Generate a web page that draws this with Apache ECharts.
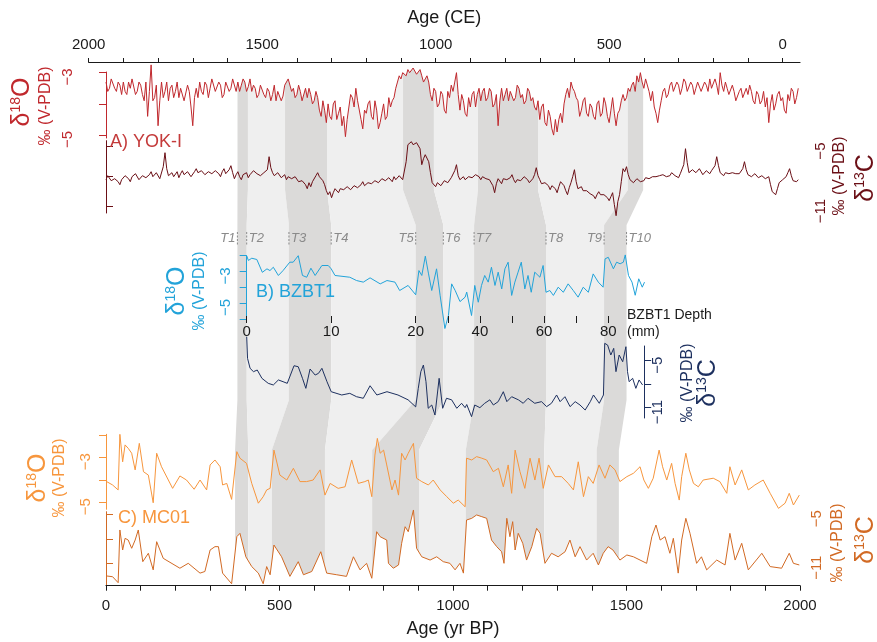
<!DOCTYPE html>
<html>
<head>
<meta charset="utf-8">
<script src="https://cdn.jsdelivr.net/npm/echarts@6/dist/echarts.min.js"></script>
<style>
html, body { margin: 0; padding: 0; background: #fff; }
#chart { width: 877px; height: 642px; }
</style>
</head>
<body>
<div id="chart"></div>
<script>
// ---- data ----
// YOK-I: values at 0,10,20... yr BP and the in-between values at 5,15,25...
var yokStep = 10;
var yokO18 = [
-3.3,-3.5,-3.2,-3.6,-3.4,-3.3,-3.7,-3.5,-3.2,-3.6,
-3.4,-3.9,-4.4,-2.75,-3.8,-4.7,-3.3,-3.6,-3.9,-3.4,
-3.6,-3.8,-3.5,-3.9,-3.6,-4.7,-3.5,-3.3,-3.7,-3.4,
-3.5,-3.2,-3.6,-3.4,-3.7,-3.3,-3.5,-3.25,-3.3,-3.4,
-3.3,-3.45,-3.6,-3.5,-3.7,-3.4,-3.8,-3.6,-3.7,-3.9,
-3.6,-3.75,-3.4,-3.25,-3.5,-3.7,-3.6,-3.9,-3.8,-3.7,
-3.9,-3.8,-4.4,-4.2,-4.0,-4.5,-3.9,-4.3,-4.7,-5.05,
-4.1,-3.8,-3.5,-3.9,-4.8,-4.3,-3.9,-4.5,-4.2,-4.6,
-4.0,-4.4,-4.1,-3.8,-3.3,-3.2,-3.0,-2.9,-2.95,-2.85,
-3.0,-3.1,-3.2,-3.3,-3.9,-3.6,-4.0,-3.7,-4.3,-3.8,
-3.6,-3.0,-4.2,-3.9,-4.4,-4.1,-3.6,-3.7,-3.9,-3.5,
-3.8,-3.6,-4.0,-4.7,-3.5,-3.7,-3.9,-3.6,-3.8,-3.5,
-3.7,-3.9,-3.6,-3.8,-4.2,-4.5,-4.0,-4.7,-4.4,-5.0,
-4.9,-4.3,-4.0,-3.5,-3.3,-3.6,-3.9,-4.2,-3.8,-4.4,
-4.1,-4.5,-3.9,-4.3,-4.0,-4.6,-3.8,-4.7,-4.2,-3.7,
-3.8,-3.6,-3.3,-3.1,-3.0,-3.5,-3.2,-3.9,-4.1,-4.6,
-3.9,-3.5,-3.7,-3.3,-3.6,-3.4,-3.5,-3.3,-3.6,-3.4,
-3.5,-3.3,-3.6,-3.4,-3.2,-3.5,-3.4,-3.0,-3.6,-3.5,
-3.7,-3.6,-3.9,-3.5,-3.8,-3.7,-3.6,-4.0,-3.7,-3.9,
-4.1,-4.6,-3.7,-4.0,-3.6,-3.8,-4.3,-3.9,-3.6,-3.8
];
var yokO18Mid = [
-3.6,-3.2,-3.5,-3.3,-3.7,-3.6,-3.3,-3.2,-3.7,-3.3,
-3.7,-3.3,-3.6,-3.9,-3.4,-3.9,-3.8,-3.3,-3.5,-3.8,
-3.3,-3.5,-3.9,-3.4,-4.1,-3.8,-3.8,-3.6,-3.3,-3.8,
-3.2,-3.6,-3.3,-3.8,-3.3,-3.6,-3.2,-3.6,-3.6,-3.2,
-3.6,-3.2,-3.4,-3.8,-3.4,-3.7,-3.5,-3.9,-3.4,-3.6,
-3.9,-3.4,-3.2,-3.6,-3.8,-3.4,-3.9,-3.5,-3.5,-4.0,
-3.6,-4.2,-3.9,-4.6,-4.4,-4.0,-4.5,-4.1,-4.4,-4.5,
-3.7,-4.1,-3.9,-4.5,-4.2,-4.0,-4.4,-3.9,-4.8,-4.3,
-4.5,-3.8,-3.9,-3.5,-3.1,-3.0,-3.1,-3.0,-2.85,-3.05,
-2.9,-3.3,-3.1,-3.7,-3.5,-4.1,-3.6,-4.2,-3.6,-3.4,
-3.3,-3.7,-3.7,-4.3,-3.8,-3.7,-4.1,-3.5,-3.6,-3.9,
-3.5,-4.1,-3.7,-3.9,-3.9,-3.5,-3.6,-3.9,-3.4,-3.8,
-4.0,-3.5,-3.9,-4.1,-3.9,-4.1,-4.6,-4.2,-4.8,-4.5,
-4.5,-4.6,-3.7,-3.8,-3.5,-3.8,-4.4,-3.9,-4.3,-4.0,
-4.4,-4.0,-4.4,-3.8,-4.4,-4.2,-4.3,-4.3,-3.9,-3.9,
-3.5,-3.4,-3.6,-3.3,-3.3,-3.2,-3.6,-3.6,-4.3,-4.2,
-3.6,-3.8,-3.4,-3.6,-3.3,-3.7,-3.2,-3.6,-3.3,-3.7,
-3.3,-3.6,-3.3,-3.6,-3.5,-3.2,-3.7,-3.4,-3.3,-3.7,
-3.4,-3.9,-3.6,-3.8,-3.5,-3.4,-3.9,-3.6,-4.0,-3.6,
-3.8,-4.0,-4.2,-3.7,-3.9,-4.2,-3.7,-3.5,-4.0,-3.5
];
var yokC13 = [
-8.3,-7.9,-8.6,-8.0,-8.8,-8.2,-7.8,-8.5,-8.1,-7.9,
-8.4,-7.7,-8.2,-7.5,-8.0,-7.8,-8.3,-5.6,-7.9,-7.6,
-7.8,-8.1,-7.4,-7.9,-7.6,-8.0,-7.2,-7.7,-7.5,-7.9,
-7.4,-7.8,-7.3,-8.0,-7.2,-7.6,-6.9,-8.2,-7.5,-8.3,
-7.9,-8.1,-7.7,-7.3,-7.6,-8.0,-7.8,-6.0,-7.6,-7.9,
-7.7,-8.0,-8.3,-7.9,-8.4,-8.1,-8.7,-8.3,-9.2,-9.0,
-8.4,-7.6,-7.9,-8.8,-9.8,-10.1,-9.2,-9.6,-9.0,-9.4,
-8.9,-9.5,-8.7,-9.2,-8.5,-9.0,-8.4,-8.8,-8.2,-8.6,
-8.0,-8.5,-8.2,-8.0,-8.3,-7.9,-8.1,-4.8,-4.5,-5.0,
-4.7,-6.8,-5.8,-6.5,-8.6,-9.0,-8.5,-8.8,-8.2,-8.5,
-8.0,-6.8,-8.3,-8.0,-8.5,-7.8,-8.2,-7.6,-8.3,-7.9,
-8.1,-8.4,-9.6,-8.2,-8.7,-8.0,-8.5,-7.8,-8.6,-8.1,
-8.4,-7.9,-8.6,-8.2,-7.1,-8.3,-8.9,-8.4,-9.3,-8.7,
-9.6,-8.5,-8.9,-9.8,-8.6,-7.3,-9.2,-9.0,-9.6,-9.3,
-9.8,-10.2,-9.5,-10.0,-9.7,-10.4,-9.6,-11.9,-9.8,-7.2,
-7.0,-8.3,-8.6,-8.2,-8.5,-8.4,-8.0,-8.3,-7.8,-8.1,
-8.0,-7.7,-8.2,-7.6,-7.9,-8.1,-7.5,-5.2,-7.6,-7.3,
-7.6,-7.2,-7.8,-7.4,-7.7,-7.5,-6.0,-7.6,-7.9,-7.4,
-7.8,-7.5,-7.9,-7.6,-6.5,-7.8,-8.0,-7.7,-8.1,-7.9,
-8.2,-8.0,-9.5,-9.8,-8.6,-8.3,-8.0,-7.2,-8.4,-8.5
];
var yokC13Mid = [
-7.9,-8.4,-8.2,-8.5,-8.3,-7.9,-8.2,-8.0,-7.7,-8.3,
-7.9,-8.1,-7.8,-8.0,-7.6,-8.2,-7.0,-7.2,-7.7,-8.0,
-7.5,-7.7,-7.8,-7.5,-8.0,-7.5,-7.6,-7.4,-7.8,-7.5,
-7.7,-7.4,-7.7,-7.5,-7.7,-7.3,-7.6,-7.8,-8.0,-7.8,
-7.6,-7.8,-7.4,-7.7,-7.9,-7.6,-7.3,-7.1,-7.9,-7.6,
-8.1,-7.8,-8.0,-8.2,-8.0,-8.5,-8.4,-8.8,-8.6,-8.5,
-7.9,-8.0,-8.4,-9.4,-9.5,-9.6,-9.4,-9.2,-9.3,-9.0,
-9.3,-8.9,-9.1,-8.8,-8.9,-8.6,-8.7,-8.4,-8.6,-8.2,
-8.4,-8.1,-8.5,-8.3,-7.9,-8.3,-6.5,-4.6,-4.8,-4.6,
-5.2,-6.2,-6.0,-7.6,-8.8,-8.6,-8.9,-8.4,-8.6,-8.1,
-7.4,-7.9,-8.1,-8.3,-8.0,-8.1,-7.8,-8.0,-8.0,-8.2,
-8.3,-8.9,-8.7,-8.4,-8.2,-8.3,-8.1,-8.3,-8.3,-8.4,
-8.0,-8.3,-8.4,-7.8,-7.9,-8.7,-8.6,-8.9,-8.9,-9.2,
-9.0,-8.7,-9.4,-9.1,-8.0,-8.5,-9.0,-9.4,-9.4,-9.7,
-9.9,-9.8,-9.8,-9.8,-10.1,-10.0,-10.8,-10.5,-8.5,-7.5,
-7.8,-8.5,-8.4,-8.4,-8.3,-8.1,-8.2,-8.0,-8.0,-7.9,
-7.8,-8.0,-7.9,-7.8,-8.0,-7.7,-6.8,-6.6,-7.4,-7.5,
-7.4,-7.5,-7.6,-7.6,-7.4,-6.9,-6.9,-7.8,-7.6,-7.7,
-7.6,-7.7,-7.7,-7.2,-7.3,-7.9,-7.8,-7.9,-8.0,-8.1,
-8.1,-8.8,-9.7,-9.2,-8.4,-8.1,-7.6,-7.9,-8.5,-8.3
];

// BZBT1 against depth (mm): [depth, value]
var bzO18 = [
[0,-2.0],[0.2,-2.3],[0.6,-2.16],[1.2,-2.24],[1.85,-3.05],[2.4,-2.83],[2.75,-2.94],[3.15,-2.73],[3.75,-3.25],[4.3,-2.94],
[5.1,-2.41],[5.5,-2.41],[6.1,-2.0],[6.6,-3.25],[7.1,-3.36],[7.6,-2.79],[8.1,-3.25],[8.9,-2.62],[9.65,-2.62],[10,-2.83],
[10.45,-3.25],[12.2,-3.36],[13,-3.57],[13.8,-3.67],[14.6,-3.4],[15.8,-3.78],[16.6,-3.57],[17.55,-3.67],[18.1,-4.2],[19.1,-3.88],
[20,-4.47],[21,-2.94],[21.9,-3.25],[23,-2.03],[24,-3.15],[25,-4.2],[26.5,-2.83],[27.6,-4.5],[29.1,-6.6],[30.2,-5.78],
[31.2,-3.78],[32.3,-4.2],[33.8,-4.9],[35.4,-4.62],[35.9,-4.3],[37.4,-5.78],[38.4,-3.88],[39.5,-4.94],[40.5,-3.88],[41.5,-3.25],
[42.6,-3.67],[43.6,-2.73],[44.7,-3.88],[45.7,-3.04],[46.8,-4.1],[47.8,-2.83],[48.8,-2.41],[49.9,-4.51],[50.9,-3.67],[51.9,-3.04],
[52.9,-2.41],[54,-4.1],[55,-3.25],[56,-4.31],[57.1,-3.04],[58.7,-3.36],[59.7,-2.62],[60.6,-4.31],[61.8,-4.2],[62.9,-4.51],
[64.4,-3.99],[66,-4.31],[67.5,-3.78],[69.1,-4.2],[70.6,-4.62],[72.2,-3.99],[73.8,-4.31],[75.3,-3.15],[76.9,-3.67],[78.4,-3.99],
[79,-2.2],[80,-2.1],[81.6,-2.83],[82.6,-2.41],[83.7,-2.51],[84.7,-2.41],[85.3,-1.95],[86.3,-3.25],[87.4,-3.67],[88.4,-4.5],
[89.5,-3.46],[90.6,-3.99],[91.3,-3.67]
];
var bzC13 = [
[0,-1.93],[0.1,-4.7],[0.4,-5.97],[0.8,-6.4],[1.25,-6.19],[1.8,-7.25],[2.55,-7.89],[3.15,-8.1],[3.75,-7.46],[4.3,-7.68],
[4.8,-7.89],[5.6,-5.64],[6.1,-5.77],[6.6,-7.25],[7.0,-8.53],[7.5,-6.06],[8.1,-6.83],[8.5,-6.61],[8.9,-5.97],[9.5,-7.68],
[10,-8.96],[11.25,-9.38],[12.2,-9.17],[13,-9.6],[13.8,-9.8],[14.6,-8.2],[15.4,-9.38],[16.6,-8.96],[17.9,-9.38],[19.1,-10.0],
[20,-10.9],[20.8,-8.53],[21.6,-6.4],[22.4,-5.55],[23.2,-7.68],[23.9,-11.08],[25,-10.66],[26,-11.94],[27.3,-7.25],[28.4,-11.08],
[29.6,-9.8],[31.2,-10.0],[32.8,-11.08],[34.3,-10.44],[35.4,-11.0],[35.9,-10.6],[37.4,-12.15],[38.4,-10.66],[40,-11.0],[41.5,-10.44],
[43.1,-10.0],[44.2,-10.66],[45.7,-10.23],[47.3,-8.96],[48.4,-10.23],[49.9,-9.6],[52,-10.0],[53.5,-10.44],[55,-9.8],[57.1,-10.44],
[59.2,-10.23],[60.8,-10.87],[62.3,-10.44],[63.9,-9.38],[65,-10.23],[66.5,-9.6],[68.1,-10.87],[69.7,-10.23],[71.2,-10.66],[72.8,-11.3],
[74.4,-10.23],[75.4,-9.38],[77.2,-10.44],[78.5,-9.38],[78.9,-2.78],[79.8,-3.0],[80.8,-4.27],[81.7,-3.42],[82.4,-6.4],[83.4,-4.27],
[84.5,-5.13],[85.5,-3.21],[86,-6.4],[86.5,-7.68],[87.6,-7.25],[88.6,-8.53],[89.6,-7.46],[90.7,-8.1]
];

// MC01 against age (yr BP): [age, value]
var mcO18 = [
[2,-4.08],[19,-4.23],[35,-4.45],[40,-1.98],[48,-3.2],[55,-2.45],[64,-2.6],[74,-2.82],[84,-3.56],[96,-2.38],
[108,-3.64],[122,-3.79],[136,-5.02],[146,-2.82],[160,-3.42],[192,-4.38],[213,-3.83],[232,-4.01],[254,-4.42],[271,-4.01],
[290,-4.45],[300,-3.34],[314,-3.12],[329,-3.42],[336,-4.23],[348,-4.16],[362,-4.87],[377,-2.75],[386,-3.04],[405,-3.27],
[420,-4.16],[439,-5.04],[453,-4.75],[463,-4.45],[473,-4.38],[484,-2.68],[501,-3.79],[521,-4.01],[540,-3.49],[559,-4.08],
[578,-4.08],[597,-4.01],[617,-3.56],[631,-4.68],[646,-4.16],[669,-4.38],[689,-4.31],[708,-3.12],[727,-4.16],[746,-4.08],
[756,-4.01],[766,-4.75],[775,-2.9],[782,-2.16],[790,-2.82],[800,-2.68],[809,-3.34],[824,-4.45],[833,-4.01],[843,-4.68],
[852,-2.82],[862,-3.12],[871,-2.82],[886,-2.38],[895,-3.93],[910,-4.08],[929,-4.23],[943,-4.01],[963,-4.45],[982,-4.75],
[1001,-5.04],[1015,-4.9],[1020,-4.82],[1035,-5.2],[1039,-3.04],[1054,-3.12],[1068,-2.97],[1083,-3.04],[1097,-3.12],[1116,-3.64],
[1131,-3.49],[1145,-4.31],[1159,-3.34],[1169,-4.6],[1179,-2.68],[1193,-3.64],[1207,-4.38],[1222,-3.04],[1236,-4.01],[1248,-3.04],
[1260,-4.38],[1275,-3.34],[1294,-3.86],[1313,-3.86],[1332,-4.16],[1347,-4.45],[1361,-3.2],[1376,-4.75],[1390,-3.86],[1404,-4.16],
[1421,-3.34],[1438,-3.93],[1452,-3.34],[1467,-3.56],[1481,-4.08],[1501,-3.86],[1520,-3.71],[1539,-3.42],[1550,-4.01],[1563,-4.38],
[1577,-3.93],[1594,-2.68],[1604,-3.42],[1616,-4.01],[1630,-3.27],[1640,-4.16],[1652,-4.9],[1659,-3.86],[1671,-2.82],[1681,-3.56],
[1693,-4.16],[1707,-4.31],[1721,-4.01],[1750,-3.93],[1769,-4.08],[1789,-4.6],[1798,-3.42],[1813,-4.23],[1832,-3.56],[1851,-4.45],
[1870,-4.23],[1894,-4.01],[1914,-4.6],[1938,-5.27],[1957,-5.04],[1969,-4.6],[1981,-5.12],[1998,-4.68]
];
var mcC13 = [
[2,-12.55],[19,-12.64],[35,-13.37],[40,-6.92],[48,-9.37],[55,-7.94],[64,-8.15],[74,-9.16],[84,-8.15],[93,-6.92],
[106,-10.8],[122,-9.77],[136,-11.8],[146,-8.35],[165,-10.39],[213,-11.6],[237,-11.0],[271,-12.2],[285,-12.0],[300,-9.37],
[314,-8.96],[324,-8.96],[336,-12.2],[362,-13.5],[377,-7.74],[386,-7.33],[403,-10.2],[420,-11.4],[439,-12.2],[453,-13.5],
[463,-11.4],[473,-12.4],[484,-8.76],[506,-10.2],[530,-12.6],[554,-10.8],[569,-12.4],[593,-12.0],[619,-9.58],[636,-12.2],
[665,-12.4],[693,-12.6],[713,-10.2],[732,-11.8],[751,-11.0],[766,-12.83],[780,-7.13],[790,-7.74],[809,-8.15],[814,-11.0],
[828,-11.6],[843,-11.2],[852,-8.55],[862,-6.52],[871,-7.13],[886,-4.47],[895,-9.16],[910,-10.2],[934,-10.6],[953,-10.2],
[972,-10.8],[991,-11.0],[1006,-11.8],[1020,-11.0],[1030,-12.2],[1039,-5.7],[1054,-5.49],[1068,-5.08],[1083,-5.29],[1097,-5.49],
[1111,-8.15],[1126,-8.96],[1140,-9.58],[1147,-11.0],[1155,-5.49],[1164,-7.74],[1172,-5.9],[1179,-9.37],[1188,-7.33],[1201,-8.55],
[1212,-10.6],[1227,-8.96],[1241,-6.72],[1251,-7.33],[1265,-11.0],[1284,-9.77],[1303,-10.2],[1323,-9.58],[1337,-8.15],[1352,-10.2],
[1366,-8.96],[1385,-10.6],[1404,-9.77],[1419,-11.2],[1433,-9.77],[1447,-8.96],[1461,-9.37],[1481,-10.6],[1501,-9.98],[1520,-10.2],
[1539,-10.6],[1558,-11.0],[1573,-7.74],[1585,-6.31],[1597,-8.15],[1611,-7.74],[1625,-9.77],[1635,-7.94],[1649,-12.2],[1659,-8.15],
[1671,-5.49],[1683,-7.33],[1702,-11.0],[1716,-10.2],[1731,-11.8],[1760,-10.6],[1784,-11.2],[1798,-7.33],[1813,-10.6],[1832,-8.55],
[1851,-11.8],[1890,-9.77],[1914,-11.4],[1947,-11.6],[1969,-9.77],[1981,-11.0],[1998,-11.2]
];

// tie points T1..T10: YOK-I age (BP), BZBT1 depth (mm), MC01 age (BP)
var tieNames = ['T1','T2','T3','T4','T5','T6','T7','T8','T9','T10'];
var tieYok   = [379, 409, 516, 637, 856, 945, 1072, 1245, 1504, 1548];
var tieDepth = [-1.1, 0, 5.0, 10.0, 20, 28.6, 38.2, 60.6, 78.7, 85.7];
var tieMc    = [372, 410, 478, 631, 767, 902, 1037, 1263, 1414, 1478];

// axis ticks / labels
var ceLabels = [2000, 1500, 1000, 500, 0];
var bpLabels = [0, 500, 1000, 1500, 2000];
var depthTicksA = [0, 10, 20], depthLabelsA = [0, 10, 20];
var depthTicksB = [30, 40, 50, 60, 70, 80], depthLabelsB = [40, 60, 80];

// ---- styles ----
var FONT = '"Liberation Sans", Arial, Helvetica, sans-serif';
var COL = {
    yokO: '#c0282d', yokC: '#6b0f16',
    bzO: '#22a3d9', bzC: '#1d305f',
    mcO: '#f7963d', mcC: '#d26a24',
    dark: '#dbdad9', light: '#efefef', tie: '#8a8a8a', ink: '#1a1a1a'
};
var Y_TOP = 62, Y_A_END = 190, Y_B_START = 225, Y_B_END = 400, Y_C_START = 450, Y_BOTTOM = 585;

function interleave(main, mid) {
    var out = [];
    main.forEach(function (v, i) {
        out.push([i * yokStep, v]);
        if (i < mid.length) out.push([i * yokStep + yokStep / 2, mid[i]]);
    });
    return out;
}
var yokO18Pts = interleave(yokO18, yokO18Mid);
var yokC13Pts = interleave(yokC13, yokC13Mid);
var ceTicksBP = [];
for (var ce = 2000; ce >= 0; ce -= 100) ceTicksBP.push(1950 - ce);
var ceLabelsBP = ceLabels.map(function (c) { return 1950 - c; });

function hiddenAxis(gi, min, max) {
    return { type: 'value', gridIndex: gi, min: min, max: max, show: false, splitLine: { show: false } };
}

function valueY(gi, min, max, pos, color, ticks, labels, margin, offset) {
    return {
        type: 'value', gridIndex: gi, min: min, max: max, position: pos, offset: offset || 0, z: 8,
        splitLine: { show: false },
        axisLine: { show: true, lineStyle: { color: color, width: 1 } },
        axisTick: { show: true, customValues: ticks, length: 7, lineStyle: { color: color, width: 1 } },
        axisLabel: {
            show: true, customValues: labels, rotate: 90, margin: margin,
            color: color, fontSize: 15, fontFamily: FONT,
            formatter: function (v) { return '\u2212' + Math.abs(v) + '{h|\u2212}'; },
            rich: { h: { color: 'rgba(0,0,0,0)', fontSize: 15, fontFamily: FONT } }
        }
    };
}

function line(xi, data, color, z) {
    return {
        type: 'line', xAxisIndex: xi, yAxisIndex: xi, data: data,
        symbol: 'none', showSymbol: false, clip: false, silent: true,
        lineStyle: { color: color, width: 1 }, itemStyle: { color: color }, z: z || 6
    };
}

function mask(xi, data, origin) {
    return {
        type: 'line', xAxisIndex: xi, yAxisIndex: xi, data: data,
        symbol: 'none', showSymbol: false, silent: true,
        lineStyle: { width: 0, opacity: 0 },
        areaStyle: { color: '#ffffff', opacity: 1, origin: origin }, z: 5
    };
}

var chart = echarts.init(document.getElementById('chart'));

var option = {
    animation: false,
    backgroundColor: '#ffffff',
    textStyle: { fontFamily: FONT },
    grid: [
        { left: 88.65, width: 711.35, top: 72, height: 66 },      // 0 YOK d18O
        { left: 88.65, width: 711.35, top: 62, height: 76 },      // 1 YOK d18O white mask
        { left: 88.65, width: 711.35, top: 140.7, height: 72.3 }, // 2 YOK d13C
        { left: 246.7, width: 169, top: 255.7, height: 63.3 },    // 3 BZBT1 d18O 0-20 mm
        { left: 415.7, width: 228.5, top: 255.7, height: 63.3 },  // 4 BZBT1 d18O 20+ mm
        { left: 246.7, width: 169, top: 346, height: 72 },        // 5 BZBT1 d13C 0-20 mm
        { left: 415.7, width: 228.5, top: 346, height: 72 },      // 6 BZBT1 d13C 20+ mm
        { left: 106, width: 694, top: 434.3, height: 75 },        // 7 MC01 d18O
        { left: 106, width: 694, top: 511.7, height: 74 }         // 8 MC01 d13C
    ],
    xAxis: [
        {
            type: 'value', gridIndex: 0, min: -50, max: 2000, position: 'top', offset: 10, z: 8,
            splitLine: { show: false },
            axisLine: { show: true, lineStyle: { color: COL.ink, width: 1.2 } },
            axisTick: { show: true, customValues: ceTicksBP, length: 4, lineStyle: { color: COL.ink } },
            axisLabel: {
                show: true, customValues: ceLabelsBP, margin: 10, fontSize: 15, color: COL.ink, fontFamily: FONT,
                formatter: function (v) { return String(Math.round(1950 - v)); }
            },
            name: 'Age (CE)', nameLocation: 'middle', nameGap: 35,
            nameTextStyle: { fontSize: 18, color: COL.ink, fontFamily: FONT }
        },
        hiddenAxis(1, -50, 2000),
        hiddenAxis(2, -50, 2000),
        {
            type: 'value', gridIndex: 3, min: 0, max: 20, position: 'bottom', offset: -3, z: 8,
            splitLine: { show: false }, axisLine: { show: false },
            axisTick: { show: true, customValues: depthTicksA, length: 7, lineStyle: { color: COL.ink } },
            axisLabel: { show: true, customValues: depthLabelsA, margin: 8, fontSize: 15, color: COL.ink, fontFamily: FONT }
        },
        {
            type: 'value', gridIndex: 4, min: 20, max: 91.2, position: 'bottom', offset: -3, z: 8,
            splitLine: { show: false }, axisLine: { show: false },
            axisTick: { show: true, customValues: depthTicksB, length: 7, lineStyle: { color: COL.ink } },
            axisLabel: { show: true, customValues: depthLabelsB, margin: 8, fontSize: 15, color: COL.ink, fontFamily: FONT }
        },
        hiddenAxis(5, 0, 20),
        hiddenAxis(6, 20, 91.2),
        hiddenAxis(7, 0, 2000),
        {
            type: 'value', gridIndex: 8, min: 0, max: 2000, interval: 100, position: 'bottom', z: 8,
            splitLine: { show: false },
            axisLine: { show: true, lineStyle: { color: COL.ink, width: 1.2 } },
            axisTick: { show: true, length: 5, lineStyle: { color: COL.ink } },
            axisLabel: {
                show: true, margin: 13, fontSize: 15, color: COL.ink, fontFamily: FONT,
                formatter: function (v) { return bpLabels.indexOf(v) >= 0 ? String(v) : ''; }
            },
            name: 'Age (yr BP)', nameLocation: 'middle', nameGap: 34,
            nameTextStyle: { fontSize: 18, color: COL.ink, fontFamily: FONT }
        }
    ],
    yAxis: [
        valueY(0, -5.093, -2.978, 'left', COL.yokO, [-3, -4, -5], [-3, -5], 12, 1.4),
        hiddenAxis(1, -5.093, -2.657),
        valueY(2, -11.63, -4.4, 'right', COL.yokC, [-5, -8, -11], [-5, -11], 13),
        valueY(3, -6, -2, 'left', COL.bzO, [-2, -3, -4, -5, -6], [-3, -5], 12, 1),
        hiddenAxis(4, -6, -2),
        hiddenAxis(5, -12.32, -3.12),
        valueY(6, -12.32, -3.12, 'right', COL.bzC, [-5, -8, -11], [-5, -11], 6),
        valueY(7, -5.311, -1.978, 'left', COL.mcO, [-2, -3, -4, -5], [-3, -5], 13),
        valueY(8, -13.74, -4.68, 'right', COL.mcC, [-5, -8, -11], [-5, -11], 9)
    ],
    series: [
        mask(1, yokO18Pts, 'end'),
        line(0, yokO18Pts, COL.yokO),
        line(2, yokC13Pts, COL.yokC),
        line(3, bzO18.filter(function (p) { return p[0] <= 20; }), COL.bzO),
        line(4, bzO18.filter(function (p) { return p[0] >= 20; }), COL.bzO),
        line(5, bzC13.filter(function (p) { return p[0] <= 20; }), COL.bzC),
        line(6, bzC13.filter(function (p) { return p[0] >= 20; }), COL.bzC),
        line(7, mcO18, COL.mcO),
        mask(8, mcC13, 'start'),
        line(8, mcC13, COL.mcC)
    ]
};
chart.setOption(option);

// ---- tie bands, labels and axis titles ----
function px(gridIndex, v) {
    return chart.convertToPixel({ gridIndex: gridIndex }, [v, 0])[0];
}

var edges = tieNames.map(function (n, i) {
    var xa = px(0, tieYok[i]);
    var xb = tieDepth[i] <= 20 ? px(3, tieDepth[i]) : px(4, tieDepth[i]);
    var xc = px(7, tieMc[i]);
    return { xb: xb, pts: [[xa, Y_TOP], [xa, Y_A_END], [xb, Y_B_START], [xb, Y_B_END], [xc, Y_C_START], [xc, Y_BOTTOM]] };
});

var graphics = [];
for (var i = 0; i < edges.length - 1; i++) {
    var pts = edges[i].pts.concat(edges[i + 1].pts.slice().reverse());
    graphics.push({
        type: 'polygon', z: 1, silent: true,
        shape: { points: pts },
        style: { fill: i % 2 === 0 ? COL.dark : COL.light }
    });
}

var labelLeft = { T1: true, T5: true, T9: true };
edges.forEach(function (e, i) {
    graphics.push({
        type: 'line', z: 9, silent: true,
        shape: { x1: e.xb, y1: 232, x2: e.xb, y2: 245 },
        style: { stroke: COL.tie, lineWidth: 1, lineDash: [2, 1.5] }
    });
    var left = labelLeft[tieNames[i]];
    graphics.push({
        type: 'text', z: 9, silent: true,
        x: left ? e.xb - 2 : e.xb + 2, y: 238.5,
        style: {
            text: tieNames[i], fill: COL.tie, fontSize: 13, fontStyle: 'italic', fontFamily: FONT,
            align: left ? 'right' : 'left', verticalAlign: 'middle'
        }
    });
});

function plainText(x, y, text, color, size) {
    return {
        type: 'text', z: 9, silent: true, x: x, y: y,
        style: { text: text, fill: color, fontSize: size, fontFamily: FONT, align: 'left', verticalAlign: 'middle' }
    };
}

function isoTitle(x, y, iso, elem, color) {
    return {
        type: 'text', z: 9, silent: true, x: x, y: y, rotation: Math.PI / 2,
        style: {
            text: '{a|\u03b4}{s|' + iso + '}{a|' + elem + '}', fill: color, align: 'center', verticalAlign: 'middle',
            rich: {
                a: { fontSize: 25, fontFamily: FONT, fill: color, color: color },
                s: { fontSize: 14, fontFamily: FONT, fill: color, color: color, verticalAlign: 'top' }
            }
        }
    };
}

function unitTitle(x, y, color) {
    return {
        type: 'text', z: 9, silent: true, x: x, y: y, rotation: Math.PI / 2,
        style: { text: '\u2030 (V-PDB)', fill: color, fontSize: 16, fontFamily: FONT, align: 'center', verticalAlign: 'middle' }
    };
}

graphics.push(
    plainText(110, 142, 'A) YOK-I', '#c43b3b', 18),
    plainText(256, 292, 'B) BZBT1', COL.bzO, 18),
    plainText(118, 518, 'C) MC01', COL.mcO, 18),
    plainText(627, 315, 'BZBT1 Depth', COL.ink, 14),
    plainText(627, 332, '(mm)', COL.ink, 14),
    isoTitle(22, 102, '18', 'O', COL.yokO), unitTitle(46, 106, COL.yokO),
    unitTitle(840, 176, COL.yokC), isoTitle(866, 178, '13', 'C', COL.yokC),
    isoTitle(177, 291, '18', 'O', COL.bzO), unitTitle(200, 291, COL.bzO),
    unitTitle(688, 383, COL.bzC), isoTitle(708, 383, '13', 'C', COL.bzC),
    isoTitle(38, 478, '18', 'O', COL.mcO), unitTitle(60, 478, COL.mcO),
    unitTitle(838, 543, COL.mcC), isoTitle(866, 540, '13', 'C', COL.mcC)
);

chart.setOption({ graphic: graphics });
</script>
</body>
</html>
